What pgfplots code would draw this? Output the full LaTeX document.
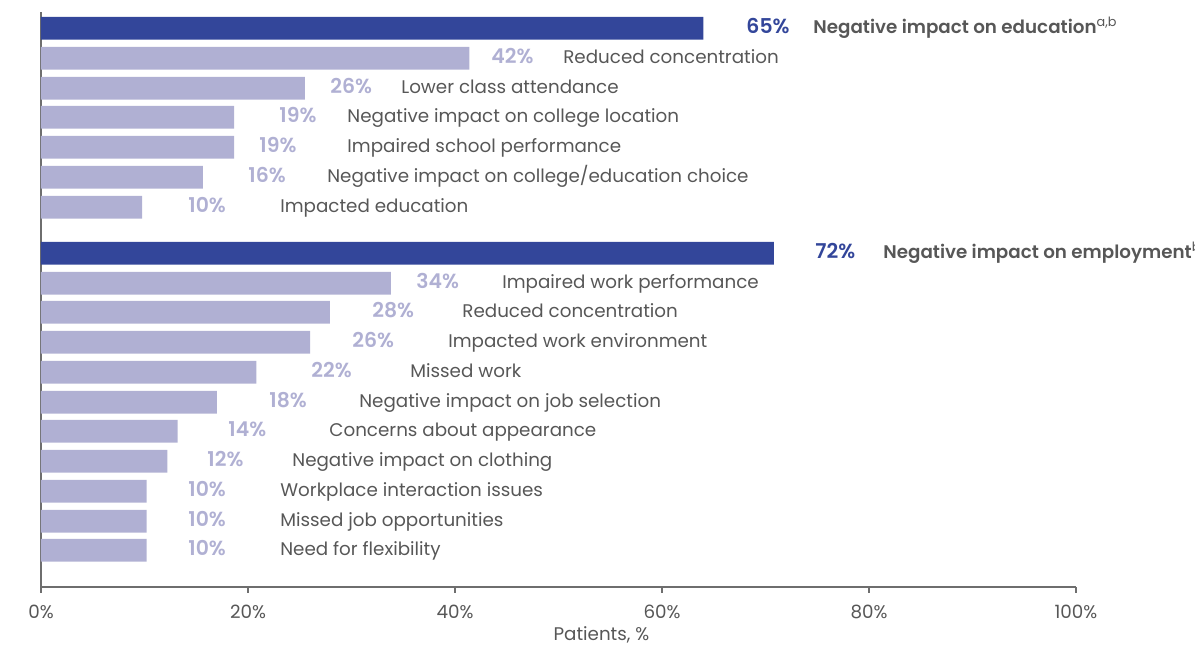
\documentclass[border=0pt]{standalone}
\usepackage{fontspec}
\setmainfont{Poppins}[BoldFont={Poppins SemiBold}]
\usepackage{pgfplots}
\pgfplotsset{compat=1.18}
\definecolor{darkbar}{HTML}{33469A}
\definecolor{lightbar}{HTML}{B0B0D3}
\definecolor{txt}{HTML}{575757}
\definecolor{axisgray}{HTML}{6E6E6E}
\begin{document}
\fontsize{9.15pt}{11pt}\selectfont
\begin{tikzpicture}[x=1pt,y=1pt,
  pct/.style={anchor=base west, inner sep=0pt, font=\fontsize{10.2pt}{12pt}\selectfont\bfseries, text=lightbar},
  dsc/.style={anchor=base west, inner sep=0pt, font=\fontsize{9.15pt}{11pt}\selectfont, text=txt},
  hdr/.style={anchor=base west, inner sep=0pt, font=\fontsize{9.15pt}{11pt}\selectfont\bfseries, text=txt}]
\path[use as bounding box] (-20.5,-29.5) rectangle (577,293.5);
\begin{axis}[
  at={(0,0)}, anchor=south west,
  scale only axis, width=517.5pt, height=287.5pt,
  xmin=0, xmax=100, ymin=0, ymax=575,
  axis x line=bottom, axis y line=left,
  axis line style={-, draw=axisgray, line width=0.75pt},
  xtick={0,20,...,100}, xticklabels={0\%,20\%,40\%,60\%,80\%,100\%},
  ytick=\empty,
  tick align=outside, major tick length=3pt,
  tick style={draw=axisgray, line width=0.6pt},
  xticklabel style={font=\fontsize{9.15pt}{11pt}\selectfont, text=txt, anchor=base, yshift=-13pt},
  xlabel={Patients, \%},
  xlabel style={at={(axis description cs:0.5415,0)}, anchor=base, yshift=-27pt, font=\fontsize{9.15pt}{11pt}\selectfont, text=txt},
  xbar, bar width=22.7, bar shift=0pt,
  clip=false,
]
\addplot[fill=darkbar, draw=none] coordinates {(64.0,558.8) (70.8,333.7)};
\addplot[fill=lightbar, draw=none] coordinates {
  (41.4,528.7) (25.5,498.8) (18.65,469.7) (18.65,439.7) (15.65,409.7) (9.76,379.7)
  (33.8,303.7) (27.9,274.7) (26.0,244.7) (20.8,214.7) (17.0,184.7) (13.2,155.7)
  (12.2,125.7) (10.2,95.7) (10.2,65.7) (10.2,36.7)};
% education group
\node[pct, text=darkbar] at (axis cs:68.12,553.1) {65\%};
\node[hdr] at (axis cs:74.59,553.1) {Negative impact on education\textsuperscript{\mdseries a,b}};
\node[pct] at (axis cs:43.48,523.0) {42\%};
\node[dsc] at (axis cs:50.43,523.0) {Reduced concentration};
\node[pct] at (axis cs:27.92,493.1) {26\%};
\node[dsc] at (axis cs:34.78,493.1) {Lower class attendance};
\node[pct] at (axis cs:23.0,464.0) {19\%};
\node[dsc] at (axis cs:29.57,464.0) {Negative impact on college location};
\node[pct] at (axis cs:21.06,434.0) {19\%};
\node[dsc] at (axis cs:29.57,434.0) {Impaired school performance};
\node[pct] at (axis cs:20.0,404.0) {16\%};
\node[dsc] at (axis cs:27.63,404.0) {Negative impact on college/education choice};
\node[pct] at (axis cs:14.2,374.0) {10\%};
\node[dsc] at (axis cs:23.09,374.0) {Impacted education};
% employment group
\node[pct, text=darkbar] at (axis cs:74.78,328.0) {72\%};
\node[hdr] at (axis cs:81.35,328.0) {Negative impact on employment\textsuperscript{\mdseries b}};
\node[pct] at (axis cs:36.23,298.0) {34\%};
\node[dsc] at (axis cs:44.54,298.0) {Impaired work performance};
\node[pct] at (axis cs:31.98,269.0) {28\%};
\node[dsc] at (axis cs:40.68,269.0) {Reduced concentration};
\node[pct] at (axis cs:30.05,239.0) {26\%};
\node[dsc] at (axis cs:39.32,239.0) {Impacted work environment};
\node[pct] at (axis cs:26.09,209.0) {22\%};
\node[dsc] at (axis cs:35.65,209.0) {Missed work};
\node[pct] at (axis cs:22.03,179.0) {18\%};
\node[dsc] at (axis cs:30.72,179.0) {Negative impact on job selection};
\node[pct] at (axis cs:18.07,150.0) {14\%};
\node[dsc] at (axis cs:27.83,150.0) {Concerns about appearance};
\node[pct] at (axis cs:16.04,120.0) {12\%};
\node[dsc] at (axis cs:24.25,120.0) {Negative impact on clothing};
\node[pct] at (axis cs:14.2,90.0) {10\%};
\node[dsc] at (axis cs:23.09,90.0) {Workplace interaction issues};
\node[pct] at (axis cs:14.2,60.0) {10\%};
\node[dsc] at (axis cs:23.09,60.0) {Missed job opportunities};
\node[pct] at (axis cs:14.2,31.0) {10\%};
\node[dsc] at (axis cs:23.09,31.0) {Need for flexibility};
\end{axis}
\end{tikzpicture}
\end{document}
